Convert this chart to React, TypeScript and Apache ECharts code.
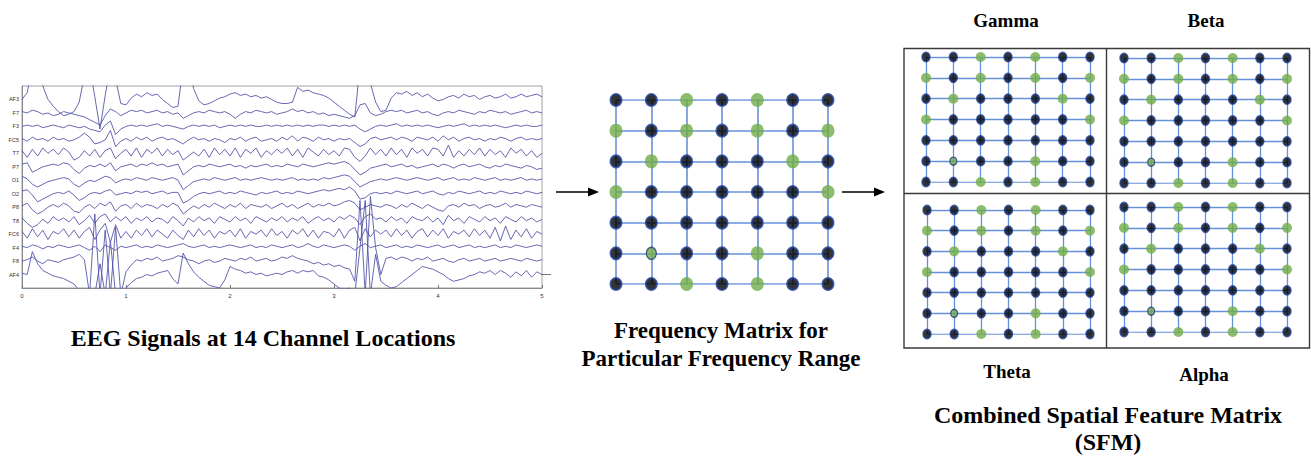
import React, { useEffect, useRef } from "react";
import * as echarts from "echarts";

// ---------- EEG data ----------
const CHANNELS = ["AF3", "F7", "F3", "FC5", "T7", "P7", "O1", "O2", "P8", "T8", "FC6", "F4", "F8", "AF4"];
const TIME_TICKS = [0, 1, 2, 3, 4, 5];
const SAMPLE_STEP = 0.05; // seconds between samples

const AF3 = [
  0.0, 0.5, 2.5, 2.5, 1.0, 0.0, -0.5, -0.9, -1.2, -1.1,
  -0.9, -0.2, 1.8, 2.5, 0.2, -2.2, 0.3, 2.5, 1.5, -0.3,
  -0.4, 0.1, 0.4, 0.2, 0.5, 0.3, 0.4, 0.0, -0.3, -0.6,
  -0.5, 2.5, 2.5, 0.8, -0.1, -0.4, -0.3, -0.1, 0.1, 0.2,
  0.4, 0.5, 0.3, 0.4, 0.2, 0.3, 0.1, 0.2, 0.0, -0.2,
  -0.3, -0.3, -0.2, 0.9, 0.6, 0.7, 0.5, 0.4, 0.3, 0.1,
  -0.2, -0.5, -0.8, -1.1, -1.3, 2.5, 2.5, 1.2, -0.2, -0.9,
  -0.8, 0.1, 0.5, 0.4, 0.6, 0.3, 0.5, 0.2, 0.4, 0.1,
  -0.1, 0.0, 0.2, 0.3, 0.1, 0.4, 0.2, 0.3, 0.0, 0.2,
  0.3, 0.1, 0.2, 0.4, 0.1, 0.2, 0.4, 0.2, 0.3, 0.4,
  0.2,
];
const F7 = [
  0.1, 0.0, 0.2, 0.1, -0.1, 0.0, -0.2, -0.1, 0.1, 0.0,
  -0.1, -0.2, -0.3, -0.5, -0.7, -0.9, -0.2, 0.3, 0.1, -0.2,
  0.0, 0.2, 0.1, 0.2, 0.0, 0.1, 0.2, 0.0, 0.1, -0.1,
  0.0, -0.4, -0.2, 0.0, 0.1, 0.0, 0.2, 0.1, 0.0, 0.1,
  -0.1, -0.4, -0.1, 0.1, 0.0, 0.2, 0.1, 0.0, 0.1, -0.1,
  0.0, 0.1, 0.3, 0.1, 0.2, 0.0, 0.1, -0.1, 0.0, -0.2,
  -0.1, -0.2, -0.3, -0.4, -0.2, 0.6, 0.7, 0.0, -0.2, -0.1,
  0.1, 0.2, 0.1, 0.2, 0.0, 0.1, 0.2, 0.0, 0.1, -0.1,
  -0.2, 0.0, 0.1, 0.0, 0.2, 0.1, 0.0, -0.1, 0.1, 0.0,
  0.2, 0.1, 0.0, 0.1, -0.1, 0.0, 0.1, 0.2, 0.0, 0.1,
  0.0,
];
const F3 = [
  0.0, 0.1, 0.0, 0.1, -0.1, 0.0, 0.1, 0.0, -0.1, 0.1,
  0.0, -0.1, 0.0, -0.2, -0.3, -0.4, 0.1, 0.4, -0.6, -0.2,
  0.0, 0.1, 0.0, 0.1, 0.0, 0.1, 0.2, 0.0, 0.1, 0.0,
  -0.1, -0.2, 0.0, 0.1, 0.0, 0.1, 0.0, 0.1, -0.1, 0.0,
  0.1, 0.0, 0.1, 0.0, 0.1, 0.0, 0.0, 0.1, 0.0, 0.1,
  0.0, 0.1, 0.0, 0.1, 0.0, 0.1, 0.0, 0.1, 0.1, 0.0,
  0.1, 0.0, 0.1, 0.0, 0.1, -0.2, -0.4, -0.2, 0.0, 0.1,
  0.0, 0.1, 0.2, 0.0, 0.1, 0.0, 0.1, 0.0, 0.1, 0.0,
  -0.1, 0.0, 0.1, 0.0, 0.1, 0.2, 0.0, 0.1, 0.0, 0.1,
  0.0, 0.1, 0.0, -0.1, 0.0, 0.1, 0.0, 0.1, 0.0, 0.0,
  0.1,
];
const FC5 = [
  0.1, -0.1, 0.2, 0.0, 0.1, -0.1, 0.2, 0.0, 0.1, -0.1,
  0.0, 0.2, 0.5, 0.2, -0.3, -0.2, 0.0, 0.7, -0.5, -0.1,
  0.1, -0.1, 0.2, 0.0, 0.2, -0.1, 0.1, 0.2, 0.0, 0.1,
  -0.1, -0.3, 0.0, 0.2, 0.0, 0.1, -0.1, 0.1, 0.0, -0.2,
  0.1, 0.0, 0.2, -0.1, 0.1, 0.2, -0.1, 0.0, 0.1, -0.1,
  0.2, 0.0, 0.3, -0.1, 0.2, 0.1, -0.1, 0.2, 0.0, 0.1,
  -0.1, 0.1, 0.0, 0.1, -0.2, -0.5, -0.3, 0.1, 0.2, 0.0,
  0.1, 0.2, 0.0, 0.2, 0.1, -0.1, 0.2, 0.1, 0.0, 0.2,
  -0.1, 0.3, 0.0, 0.2, -0.1, 0.1, 0.2, 0.0, 0.1, -0.1,
  0.1, 0.0, 0.2, 0.1, -0.1, 0.1, 0.2, 0.0, 0.1, 0.0,
  0.1,
];
const T7 = [
  0.2, -0.3, 0.3, -0.2, 0.4, 0.0, 0.3, -0.1, 0.4, 0.1,
  -0.5, -0.3, 0.2, -0.2, 0.3, -0.3, 0.2, 0.4, -0.4, 0.0,
  0.3, -0.2, 0.4, -0.3, 0.3, 0.0, 0.4, -0.2, 0.3, -0.1,
  0.2, -0.5, -0.2, 0.1, -0.2, 0.3, -0.3, 0.4, -0.1, 0.3,
  -0.2, 0.4, -0.3, 0.3, 0.0, 0.4, -0.3, 0.2, -0.1, 0.3,
  0.0, 0.4, -0.2, 0.3, -0.3, 0.4, 0.1, -0.2, 0.3, -0.1,
  0.2, -0.2, 0.4, 0.3, -0.3, -0.6, -0.2, 0.4, -0.1, 0.3,
  -0.2, 0.4, -0.1, 0.3, -0.3, 0.4, 0.0, 0.3, -0.2, 0.4,
  0.3, -0.2, 0.6, -0.3, 0.2, -0.2, 0.3, -0.1, 0.4, -0.2,
  0.3, -0.1, 0.2, -0.3, 0.4, 0.0, 0.3, -0.2, 0.2, -0.3,
  0.0,
];
const P7 = [
  0.2, 0.3, -0.4, -0.2, 0.0, 0.1, 0.2, 0.1, 0.3, 0.2,
  -0.2, -0.5, -0.1, 0.1, 0.0, 0.2, 0.0, 0.3, -0.3, 0.0,
  0.1, 0.2, 0.0, 0.2, 0.1, 0.3, 0.1, 0.2, 0.0, 0.1,
  0.2, -0.6, -0.3, 0.0, 0.1, 0.0, 0.2, 0.1, 0.0, 0.1,
  0.2, 0.0, 0.1, -0.1, 0.1, 0.0, 0.1, 0.2, 0.0, 0.1,
  0.0, 0.2, 0.1, 0.0, 0.2, 0.1, 0.0, 0.1, 0.2, 0.3,
  0.2, 0.3, 0.4, 0.2, -0.2, -0.6, -0.4, -0.1, 0.0, 0.1,
  0.2, 0.0, 0.1, 0.2, 0.0, 0.1, -0.1, 0.0, 0.1, 0.2,
  0.0, 0.2, 0.1, -0.1, 0.1, 0.2, 0.0, 0.1, 0.2, 0.0,
  -0.1, 0.1, 0.0, 0.2, 0.1, 0.0, -0.1, 0.1, 0.0, -0.2,
  -0.1,
];
const O1 = [
  0.3, 0.1, -0.3, -0.5, -0.3, -0.1, 0.0, 0.1, 0.2, 0.1,
  -0.3, -0.5, -0.2, 0.0, -0.1, 0.1, 0.3, 0.2, -0.2, 0.0,
  0.1, 0.0, 0.2, 0.1, 0.0, 0.2, 0.1, 0.0, 0.1, 0.2,
  0.0, -0.7, -0.4, -0.1, 0.0, 0.1, 0.0, 0.2, 0.1, 0.0,
  0.1, 0.2, 0.0, 0.1, 0.0, 0.1, 0.2, 0.1, 0.0, 0.1,
  0.0, 0.1, 0.2, 0.0, 0.1, 0.0, 0.1, 0.0, 0.2, 0.1,
  0.2, 0.3, 0.4, 0.3, -0.1, -0.5, -0.3, -0.1, 0.0, 0.1,
  0.0, 0.1, 0.2, 0.1, 0.0, 0.1, 0.2, 0.1, 0.0, 0.1,
  0.2, 0.0, 0.1, 0.2, 0.0, 0.1, 0.0, 0.2, 0.1, 0.0,
  0.1, 0.2, 0.0, 0.1, 0.0, 0.1, 0.2, 0.0, 0.1, 0.0,
  0.1,
];
const O2 = [
  0.2, 0.3, -0.1, -0.6, -0.4, -0.2, 0.0, 0.1, 0.0, 0.2,
  -0.1, -0.5, -0.3, 0.0, 0.1, 0.0, 0.2, 0.3, -0.1, 0.0,
  0.1, 0.0, 0.2, 0.1, 0.2, 0.0, 0.1, 0.2, 0.0, 0.1,
  0.1, -0.7, -0.5, -0.2, 0.0, 0.1, 0.0, 0.1, 0.2, 0.0,
  0.1, 0.0, 0.2, 0.1, 0.0, -0.1, 0.1, 0.0, 0.1, 0.2,
  0.0, 0.1, 0.0, 0.2, 0.1, 0.0, 0.1, 0.2, 0.3, 0.2,
  0.3, 0.4, 0.3, 0.5, 0.2, -0.4, -0.3, 0.0, 0.1, 0.0,
  0.1, 0.0, 0.2, 0.1, 0.0, 0.1, 0.2, 0.0, 0.1, 0.2,
  0.0, -0.1, 0.1, 0.0, 0.2, 0.1, 0.0, 0.1, 0.2, 0.0,
  0.1, 0.0, 0.2, 0.1, 0.0, 0.1, 0.0, 0.2, 0.1, 0.0,
  0.1,
];
const P8 = [
  0.1, 0.3, -0.2, -0.5, -0.3, 0.0, 0.2, 0.0, 0.3, 0.1,
  -0.3, -0.4, 0.0, 0.2, -0.1, 0.3, 0.1, 0.4, -0.3, 0.1,
  0.2, -0.1, 0.3, 0.0, 0.2, 0.1, -0.1, 0.2, 0.0, 0.3,
  0.1, -0.5, -0.2, 0.1, -0.1, 0.2, 0.0, 0.3, 0.1, -0.1,
  0.2, 0.0, 0.3, -0.1, 0.2, 0.1, 0.0, 0.2, -0.1, 0.1,
  0.3, 0.0, 0.2, -0.1, 0.1, 0.3, 0.0, 0.2, 0.1, 0.3,
  0.1, 0.2, 0.4, 0.5, 0.3, -0.2, 0.0, 0.2, 0.1, 0.0,
  0.2, 0.1, -0.1, 0.2, 0.0, 0.3, 0.1, -0.1, 0.2, 0.0,
  -0.2, -0.3, 0.1, 0.2, 0.0, 0.3, 0.1, 0.2, -0.1, 0.1,
  0.2, 0.0, 0.1, 0.3, 0.0, 0.2, 0.1, 0.0, 0.2, 0.1,
  0.0,
];
const T8 = [
  0.2, -0.2, -0.5, -0.3, 0.1, -0.2, 0.3, 0.0, 0.2, -0.1,
  0.3, -0.3, 0.0, 0.4, -0.2, 0.3, 0.5, -0.1, 0.3, 0.0,
  0.3, -0.2, 0.2, 0.0, 0.3, -0.1, 0.2, 0.1, -0.2, 0.3,
  0.0, -0.4, 0.2, -0.1, 0.3, 0.0, 0.2, -0.2, 0.3, 0.1,
  -0.1, 0.3, 0.0, 0.2, -0.2, 0.3, 0.1, -0.1, 0.2, 0.0,
  0.3, -0.1, 0.2, 0.0, 0.3, -0.2, 0.1, 0.3, 0.0, 0.2,
  -0.1, 0.3, 0.1, 0.4, 0.2, -0.3, 0.3, 0.5, 0.1, 0.2,
  -0.1, 0.3, 0.0, 0.2, -0.2, 0.3, 0.1, 0.0, 0.3, -0.1,
  0.2, -0.3, 0.4, 0.0, 0.2, -0.2, 0.3, 0.1, -0.1, 0.3,
  0.0, 0.2, -0.2, 0.3, 0.1, -0.1, 0.3, 0.0, 0.2, -0.1,
  0.1,
];
const FC6 = [
  0.2, -0.3, 0.4, -0.2, 0.3, -0.4, 0.2, 0.0, 0.4, -0.2,
  0.3, -0.3, 0.2, 0.5, -0.4, 0.3, 0.8, -0.6, 0.7, -0.3,
  0.2, -0.3, 0.3, -0.1, 0.4, -0.2, 0.3, 0.0, -0.3, 0.3,
  -0.1, -0.4, 0.3, -0.2, 0.4, -0.1, 0.3, -0.3, 0.2, 0.0,
  0.3, -0.2, 0.4, -0.3, 0.2, 0.0, 0.3, -0.2, 0.4, -0.1,
  0.2, -0.3, 0.3, 0.0, 0.4, -0.2, 0.3, -0.3, 0.2, 0.1,
  -0.2, 0.4, -0.3, 0.3, 0.5, -0.5, 0.4, -0.2, 0.3, 0.0,
  0.3, -0.2, 0.4, -0.1, 0.3, -0.3, 0.2, 0.4, -0.2, 0.3,
  -0.1, 0.4, -0.3, 0.2, 0.0, 0.3, -0.2, 0.4, -0.1, 0.3,
  -0.3, 0.5, -0.5, 0.6, -0.4, 0.3, -0.2, 0.4, -0.3, 0.2,
  0.0,
];
const F4 = [
  0.1, 0.0, 0.2, 0.1, -0.1, 0.1, 0.0, 0.2, 0.1, 0.0,
  0.1, 0.2, 0.0, -0.2, 0.1, -0.3, 0.2, 0.0, -0.2, 0.1,
  0.0, 0.1, 0.2, 0.0, 0.1, 0.0, 0.2, 0.1, 0.0, 0.1,
  0.2, 0.3, 0.1, 0.0, 0.1, 0.2, 0.0, 0.1, 0.0, 0.1,
  0.2, 0.1, 0.0, 0.1, 0.2, 0.0, 0.1, 0.0, 0.2, 0.1,
  0.0, 0.1, 0.2, 0.0, 0.1, 0.3, 0.1, 0.0, 0.2, 0.1,
  0.0, 0.1, 0.2, 0.1, -0.2, 0.1, 0.3, 0.0, 0.1, 0.2,
  0.0, 0.1, 0.2, 0.0, 0.1, 0.0, 0.2, 0.1, 0.0, 0.1,
  0.2, 0.0, 0.1, 0.2, 0.0, 0.1, 0.2, 0.0, 0.1, 0.0,
  0.1, 0.2, 0.0, 0.1, 0.0, 0.2, 0.1, 0.0, 0.1, 0.2,
  0.1,
];
const F8 = [
  0.0, 0.1, 0.3, 0.0, -0.2, 0.1, 0.0, -0.1, 0.1, 0.2,
  0.3, 0.5, 0.1, -2.5, 3.5, -2.5, 2.3, -2.5, 2.5, -2.5,
  -0.8, -0.3, 0.1, 0.0, 0.2, 0.1, 0.3, 0.0, 0.1, 0.2,
  0.4, 0.3, 0.1, 0.0, -0.2, 0.0, 0.1, -0.1, 0.0, 0.2,
  0.1, 0.0, 0.2, 0.1, 0.3, 0.0, 0.1, 0.2, 0.0, 0.1,
  0.3, 0.2, 0.4, 0.2, 0.1, 0.0, -0.2, -0.1, -0.3, -0.2,
  -0.4, -0.3, -0.5, -0.6, -1.5, 4.5, -2.5, 4.8, 1.0, -1.0,
  0.2, 0.3, 0.1, 0.3, 0.2, 0.0, 0.2, 0.1, 0.3, 0.0,
  0.1, 0.2, 0.0, -0.1, 0.1, 0.2, 0.0, 0.1, 0.2, 0.0,
  0.1, 0.2, 0.0, 0.1, 0.2, 0.1, 0.0, 0.2, 0.1, 0.0,
  0.1,
];
const AF4 = [
  0.1, 0.0, 1.7, 0.8, 0.3, 0.1, -0.1, -0.2, -0.3, -0.5,
  -0.7, -1.2, -1.5, -1.5, -1.5, 0.8, -1.5, 2.5, -1.5, -1.5,
  -1.0, -0.6, -0.3, -0.2, 0.0, -0.1, 0.1, 0.2, 0.3, -0.3,
  -0.7, 1.6, 0.8, 0.2, -0.2, -0.5, -0.8, -0.9, -1.0, -0.4,
  0.6, 0.4, 0.3, 0.1, 0.2, 0.0, 0.1, -0.1, 0.0, 0.1,
  0.0, 0.2, 0.3, 0.1, 0.3, 0.2, 0.3, -0.1, -0.2, -0.4,
  -0.7, -1.0, -1.1, -1.0, -1.5, 2.0, 5.5, -1.5, 1.5, -0.5,
  -0.8, -1.0, -0.9, -0.6, -0.3, 0.0, 0.3, 0.6, 0.5, 0.4,
  0.2, 0.0, -0.3, -0.5, -0.4, -0.3, -0.1, 0.0, 0.2, 0.1,
  0.3, 0.0, 0.3, 0.1, -0.2, 0.2, -0.1, 0.3, -0.2, 0.2,
  0.0,
];
const EEG_SIGNALS = [AF3, F7, F3, FC5, T7, P7, O1, O2, P8, T8, FC6, F4, F8, AF4];

// ---------- Frequency matrix data ----------
// B = low (black) node, G = high (green) node, O = green node with dark outline
const MATRIX_PATTERN = [
  "BBGBGBB",
  "GBGBGBG",
  "BGBBBGB",
  "GBBBBBG",
  "BBBBBBB",
  "BOBBGBB",
  "BBGBGBB",
];
const BAND_LABELS = ["Gamma", "Beta", "Theta", "Alpha"];

const TITLE_EEG = "EEG Signals at 14 Channel Locations";
const TITLE_FREQ = ["Frequency Matrix for", "Particular Frequency Range"];
const TITLE_SFM = ["Combined Spatial Feature Matrix", "(SFM)"];

const SERIF = '"Liberation Serif", "Times New Roman", serif';

export default function App() {
  const ref = useRef<HTMLDivElement>(null);

  useEffect(() => {
    if (!ref.current) return;
    const chart = echarts.init(ref.current, null, { renderer: "svg" });

    const nCh = CHANNELS.length;
    const grids: any[] = [];
    const xAxes: any[] = [];
    const yAxes: any[] = [];
    const series: any[] = [];

    // EEG panel
    grids.push({
      left: 22, top: 86, width: 520, height: 202,
      show: true, borderColor: "#8a8a8a", borderWidth: 0.8,
    });
    xAxes.push({
      gridIndex: 0, type: "value", min: TIME_TICKS[0], max: TIME_TICKS[TIME_TICKS.length - 1], interval: 1,
      axisLine: { show: true, lineStyle: { color: "#777", width: 0.8 } },
      axisTick: { show: true, inside: true, length: 3, lineStyle: { color: "#777" } },
      axisLabel: { fontSize: 6, color: "#333", margin: 5, fontFamily: "Arial" },
      splitLine: { show: false },
    });
    yAxes.push({
      gridIndex: 0, type: "value", min: 0, max: nCh + 1, interval: 1,
      axisLine: { show: true, lineStyle: { color: "#777", width: 0.8 } },
      axisTick: { show: false },
      axisLabel: {
        fontSize: 5.5, color: "#333", margin: 3, fontFamily: "Arial",
        formatter: (v: number) => (v >= 1 && v <= nCh ? CHANNELS[nCh - v] : ""),
      },
      splitLine: { show: false },
    });
    EEG_SIGNALS.forEach((sig, k) => {
      const base = nCh - k;
      series.push({
        type: "line", xAxisIndex: 0, yAxisIndex: 0, name: CHANNELS[k],
        showSymbol: false, symbol: "none", clip: true, silent: true,
        data: sig.map((v, i) => [i * SAMPLE_STEP, base + v]),
        lineStyle: { color: "#4d4da6", width: 0.85 },
      });
    });

    // Matrix panels: middle, gamma, beta, theta, alpha
    const panels = [
      { left: 616, top: 100, w: 212, h: 184, big: true },
      { left: 926, top: 57, w: 164, h: 125, big: false },
      { left: 1124, top: 58, w: 163, h: 125, big: false },
      { left: 927, top: 210, w: 163, h: 124, big: false },
      { left: 1124, top: 207, w: 163, h: 125, big: false },
    ];
    const n = MATRIX_PATTERN.length;
    panels.forEach((p, idx) => {
      const gi = idx + 1;
      grids.push({ left: p.left, top: p.top, width: p.w, height: p.h });
      xAxes.push({ gridIndex: gi, type: "value", min: 0, max: n - 1, show: false });
      yAxes.push({ gridIndex: gi, type: "value", min: 0, max: n - 1, inverse: true, show: false });
      const segs: any[] = [];
      for (let r = 0; r < n; r++) segs.push({ coords: [[0, r], [n - 1, r]] });
      for (let c = 0; c < n; c++) segs.push({ coords: [[c, 0], [c, n - 1]] });
      series.push({
        type: "lines", coordinateSystem: "cartesian2d", xAxisIndex: gi, yAxisIndex: gi,
        data: segs, silent: true, z: 1,
        lineStyle: { color: "#6591dc", width: p.big ? 1.6 : 1.3, opacity: 1, curveness: 0 },
      });
      const pts: any[] = [];
      MATRIX_PATTERN.forEach((row, r) => {
        row.split("").forEach((ch, c) => {
          if (ch === "B") {
            pts.push({
              value: [c, r], symbolSize: p.big ? [11, 12] : [8, 9],
              itemStyle: { color: "#000", borderColor: "#213f94", borderWidth: p.big ? 2 : 1.6 },
            });
          } else if (ch === "G") {
            pts.push({
              value: [c, r], symbolSize: p.big ? [13, 14] : [10, 10],
              itemStyle: { color: "#70ad47", borderWidth: 0 },
            });
          } else {
            pts.push({
              value: [c, r], symbolSize: p.big ? [10, 12] : [7, 8],
              itemStyle: { color: "#70ad47", borderColor: "#1f3a80", borderWidth: 1.3 },
            });
          }
        });
      });
      series.push({
        type: "scatter", xAxisIndex: gi, yAxisIndex: gi, data: pts, symbol: "circle",
        clip: false, silent: true, z: 3,
      });
    });

    const txt = (text: string, x: number, y: number, size: number) => ({
      type: "text", x, y, silent: true,
      style: {
        text, fill: "#000", fontFamily: SERIF, fontWeight: "bold", fontSize: size,
        align: "center", verticalAlign: "middle",
      },
    });

    const graphic: any[] = [
      txt(TITLE_EEG, 263, 338, 24),
      txt(TITLE_FREQ[0], 721, 330, 23),
      txt(TITLE_FREQ[1], 721, 358, 23),
      txt(TITLE_SFM[0], 1108, 415, 24),
      txt(TITLE_SFM[1], 1108, 442, 24),
      txt(BAND_LABELS[0], 1006, 20, 19),
      txt(BAND_LABELS[1], 1206, 20, 19),
      txt(BAND_LABELS[2], 1007, 371, 19),
      txt(BAND_LABELS[3], 1204, 374, 19),
      // arrows
      { type: "line", shape: { x1: 556, y1: 192, x2: 590, y2: 192 }, style: { stroke: "#000", lineWidth: 1.3 } },
      { type: "polygon", shape: { points: [[588, 187.5], [599, 192], [588, 196.5]] }, style: { fill: "#000" } },
      { type: "line", shape: { x1: 842, y1: 192, x2: 876, y2: 192 }, style: { stroke: "#000", lineWidth: 1.3 } },
      { type: "polygon", shape: { points: [[874, 187.5], [885, 192], [874, 196.5]] }, style: { fill: "#000" } },
      // small right tick on EEG axis
      { type: "line", shape: { x1: 542, y1: 274.5, x2: 551, y2: 274.5 }, style: { stroke: "#555", lineWidth: 0.8 } },
      // SFM box
      { type: "rect", shape: { x: 904, y: 48.5, width: 405.5, height: 299.5 }, style: { fill: "none", stroke: "#3a3a3a", lineWidth: 1.4 } },
      { type: "line", shape: { x1: 1106.5, y1: 48.5, x2: 1106.5, y2: 348 }, style: { stroke: "#3a3a3a", lineWidth: 1.4 } },
      { type: "line", shape: { x1: 904, y1: 193.5, x2: 1309.5, y2: 193.5 }, style: { stroke: "#3a3a3a", lineWidth: 1.4 } },
    ];

    chart.setOption({
      animation: false,
      backgroundColor: "#fff",
      grid: grids,
      xAxis: xAxes,
      yAxis: yAxes,
      series,
      graphic,
    });

    return () => chart.dispose();
  }, []);

  return (
    <div
      ref={ref}
      style={{ position: "fixed", left: 0, top: 0, width: 1311, height: 456, background: "#fff" }}
    />
  );
}
